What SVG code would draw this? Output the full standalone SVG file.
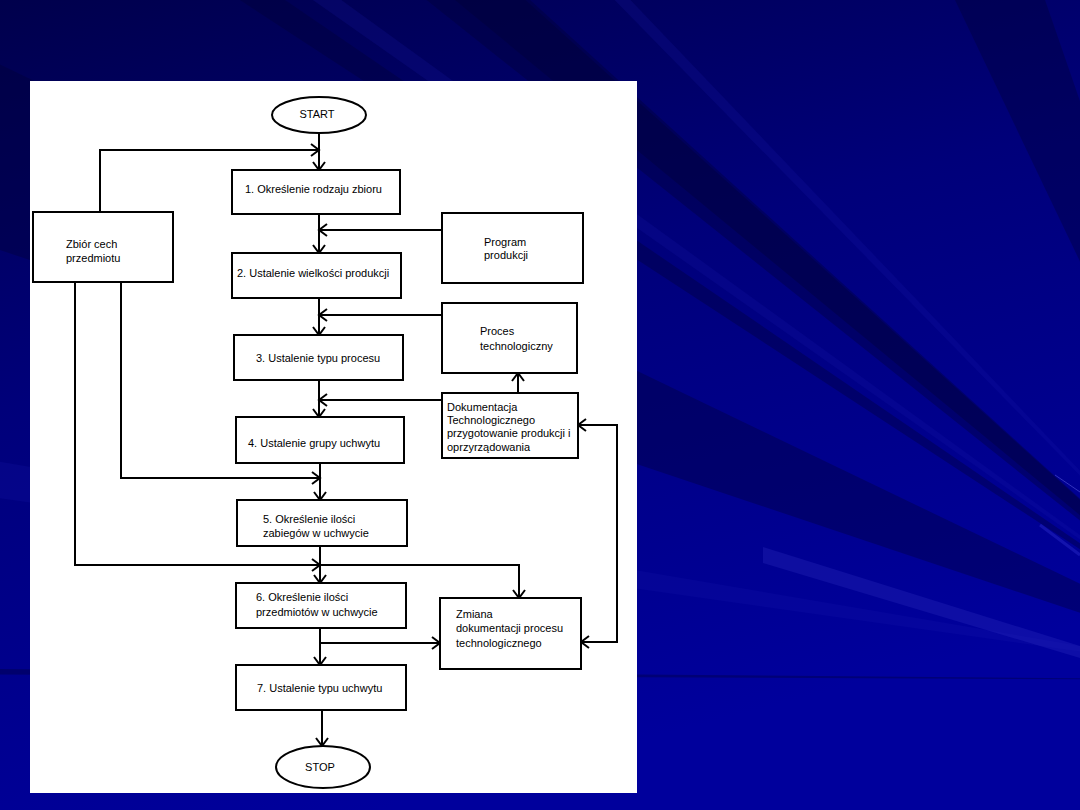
<svg xmlns="http://www.w3.org/2000/svg" width="1080" height="810" viewBox="0 0 1080 810">
  <defs>
    <linearGradient id="bg" x1="0" y1="0" x2="0.35" y2="1">
      <stop offset="0" stop-color="#00004c"/>
      <stop offset="0.45" stop-color="#00007a"/>
      <stop offset="1" stop-color="#00009c"/>
    </linearGradient>
    <marker id="arr" viewBox="-10 -8 12 16" markerWidth="12" markerHeight="16" refX="0" refY="0" markerUnits="userSpaceOnUse" orient="auto-start-reverse">
      <path d="M-8,-6 L0,0 L-8,6" fill="none" stroke="#000" stroke-width="2"/>
    </marker>
    <style>
      .box { fill: #fff; stroke: #000; stroke-width: 2; }
      .t { font-family: "Liberation Sans", Arial, sans-serif; font-size: 11px; fill: #000; }
      .c { text-anchor: middle; }
      .ln { fill: none; stroke: #000; stroke-width: 2; }
      .ar { marker-end: url(#arr); }
      .dk { fill: #000034; opacity: 0.35; }
      .lt { fill: #1c1cb4; opacity: 0.18; }
    </style>
  </defs>

  <!-- background -->
  <g id="background">
    <rect x="0" y="0" width="1080" height="810" fill="url(#bg)"/>
    <polygon class="dk" points="1280,680 240,0 285,0"/>
    <polygon class="dk" points="1280,680 455,0 530,0"/>
    <polygon class="dk" points="1280,680 955,0 1045,0"/>
    <polygon class="dk" points="1280,680 -128,-589 -128,-442"/>
    <polygon class="dk" points="1280,680 -128,3 -128,207"/>
    <polygon class="dk" points="1280,680 -128,668 -128,674"/>
    <polygon class="lt" points="1280,680 -128,-794 -128,-759"/>
    <polygon class="lt" points="1280,680 -128,-340 -128,-310"/>
    <polygon class="lt" points="1280,680 1110,0 1140,0"/>
    <polygon class="lt" points="1280,680 -128,440 -128,480"/>
    <polygon fill="#3030c0" opacity="0.3" points="763,547 1080,646 1080,658 763,563"/>
    <line x1="1055" y1="475" x2="1080" y2="492" stroke="#8080ff" stroke-width="0.8" opacity="0.5"/>
    <line x1="1040" y1="525" x2="1080" y2="555" stroke="#3030d0" stroke-width="3" opacity="0.4"/>
  </g>

  <!-- white panel -->
  <rect id="panel" x="30" y="81" width="607" height="712" fill="#fff"/>

  <!-- connectors -->
  <g id="connectors">
    <path class="ln ar" d="M319,133 V170"/>
    <path class="ln ar" d="M100,212 V150 H319"/>
    <path class="ln ar" d="M319,214 V253"/>
    <path class="ln ar" d="M442,230 H319"/>
    <path class="ln ar" d="M319,298 V335"/>
    <path class="ln ar" d="M442,315 H319"/>
    <path class="ln ar" d="M319,380 V417"/>
    <path class="ln ar" d="M442,400 H319"/>
    <path class="ln ar" d="M518,393 V373"/>
    <path class="ln ar" d="M320,463 V500"/>
    <path class="ln ar" d="M121,282 V478 H320"/>
    <path class="ln ar" d="M320,546 V583"/>
    <path class="ln ar" d="M75,282 V565 H320"/>
    <path class="ln ar" d="M320,565 H519 V598"/>
    <path class="ln ar" d="M320,628 V665"/>
    <path class="ln ar" d="M320,643 H440"/>
    <path class="ln ar" d="M578,425 H617 V642 H581" marker-start="url(#arr)"/>
    <path class="ln ar" d="M322,710 V746"/>
  </g>

  <!-- nodes -->
  <g id="start">
    <ellipse class="box" cx="319" cy="115" rx="47" ry="18"/>
    <text class="t c" x="317" y="118">START</text>
  </g>
  <g id="step1">
    <rect class="box" x="232" y="170" width="168" height="44"/>
    <text class="t" x="245" y="193">1. Określenie rodzaju zbioru</text>
  </g>
  <g id="step2">
    <rect class="box" x="232" y="253" width="169" height="45"/>
    <text class="t" x="237" y="277">2. Ustalenie wielkości produkcji</text>
  </g>
  <g id="step3">
    <rect class="box" x="234" y="335" width="169" height="45"/>
    <text class="t" x="256" y="362">3. Ustalenie typu procesu</text>
  </g>
  <g id="step4">
    <rect class="box" x="236" y="417" width="168" height="46"/>
    <text class="t" x="248" y="447">4. Ustalenie grupy uchwytu</text>
  </g>
  <g id="step5">
    <rect class="box" x="237" y="500" width="170" height="46"/>
    <text class="t" x="263" y="523">5. Określenie ilości</text>
    <text class="t" x="263" y="537">zabiegów w uchwycie</text>
  </g>
  <g id="step6">
    <rect class="box" x="236" y="583" width="170" height="45"/>
    <text class="t" x="256" y="601">6. Określenie ilości</text>
    <text class="t" x="256" y="616">przedmiotów w uchwycie</text>
  </g>
  <g id="step7">
    <rect class="box" x="236" y="665" width="170" height="45"/>
    <text class="t" x="257" y="692">7. Ustalenie typu uchwytu</text>
  </g>
  <g id="stop">
    <ellipse class="box" cx="323" cy="767" rx="47" ry="21"/>
    <text class="t c" x="320" y="771">STOP</text>
  </g>
  <g id="zbior">
    <rect class="box" x="33" y="212" width="140" height="70"/>
    <text class="t" x="66" y="248">Zbiór cech</text>
    <text class="t" x="66" y="262">przedmiotu</text>
  </g>
  <g id="program">
    <rect class="box" x="442" y="213" width="141" height="70"/>
    <text class="t" x="484" y="246">Program</text>
    <text class="t" x="484" y="259">produkcji</text>
  </g>
  <g id="proces">
    <rect class="box" x="442" y="303" width="135" height="70"/>
    <text class="t" x="480" y="335">Proces</text>
    <text class="t" x="480" y="350">technologiczny</text>
  </g>
  <g id="dokumentacja">
    <rect class="box" x="442" y="393" width="136" height="65"/>
    <text class="t" x="447" y="411">Dokumentacja</text>
    <text class="t" x="447" y="424">Technologicznego</text>
    <text class="t" x="447" y="437">przygotowanie produkcji i</text>
    <text class="t" x="447" y="451">oprzyrządowania</text>
  </g>
  <g id="zmiana">
    <rect class="box" x="440" y="598" width="141" height="71"/>
    <text class="t" x="456" y="618">Zmiana</text>
    <text class="t" x="456" y="632">dokumentacji procesu</text>
    <text class="t" x="456" y="647">technologicznego</text>
  </g>
</svg>
